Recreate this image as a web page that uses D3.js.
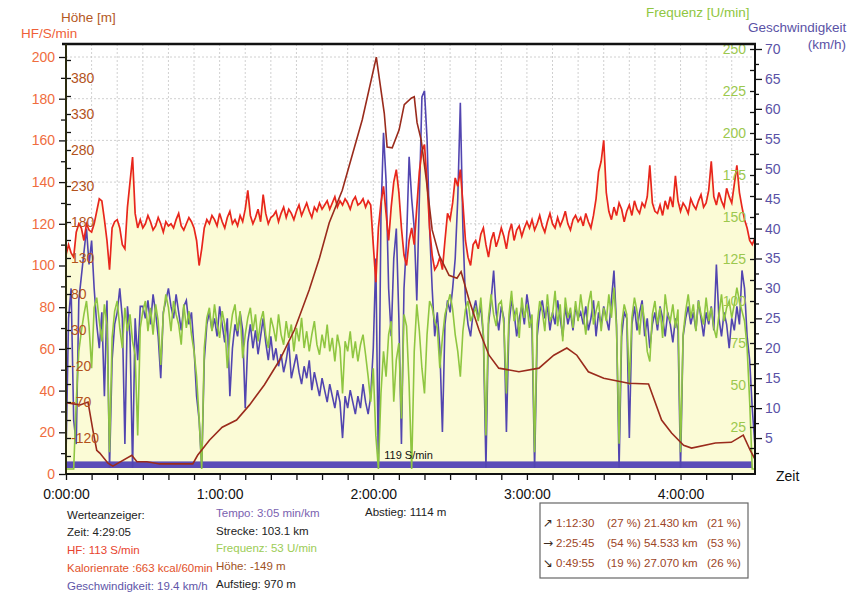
<!DOCTYPE html>
<html>
<head>
<meta charset="utf-8">
<script src="https://cdn.jsdelivr.net/npm/d3@7"></script>
<style>
    body { margin: 0; background: #fff; }
    svg { font-family: "Liberation Sans", Arial, sans-serif; }
</style>
</head>
<body>
<script>

// Samples, one per minute from 0:00 to 4:29

var hfValues = [
    105,110,106,104,116,120,118,112,120,117, 116,120,126,132,131,122,112,98,118,121,
    122,118,110,108,128,140,152,125,118,122, 118,120,124,121,117,119,123,120,116,121,
    119,120,118,122,125,119,117,120,123,121, 118,112,100,108,118,122,120,124,122,119,
    125,121,118,123,126,120,122,119,124,121, 127,136,124,120,123,127,121,134,125,120,
    123,124,126,121,125,128,123,127,125,122, 126,129,124,127,130,126,123,128,126,130,
    127,129,131,127,130,133,128,131,129,132, 130,127,131,133,129,130,132,128,131,129,
    110,92,118,130,138,125,112,128,140,146, 135,118,105,100,112,118,110,128,145,155,
    158,140,118,105,98,100,104,98,112,125, 122,130,142,138,146,130,112,104,100,110,
    112,108,115,118,110,104,112,116,109,113, 118,114,108,116,120,112,117,119,114,118,
    121,118,122,117,120,124,119,116,121,125, 120,118,123,119,122,126,120,117,122,124,
    121,123,119,125,121,118,124,132,145,150, 160,135,126,122,128,124,130,127,121,126,
    129,124,131,127,125,130,128,133,148,130, 126,125,129,124,131,127,133,128,143,131,
    126,130,128,125,132,129,127,131,134,128, 130,136,150,133,129,135,131,128,137,133,
    130,139,148,135,128,122,118,112,110,113
];

var speedValues = [
    2,25,30,8,4,28,32,36,40,34, 38,30,24,20,26,12,28,0,18,24,
    26,30,25,4,27,22,0,25,18,27, 27,25,28,24,29,26,22,15,26,28,
    30,27,25,29,26,23,27,28,24,26, 20,12,8,0,18,24,26,23,25,22,
    27,24,21,25,12,20,24,22,26,23, 10,21,24,20,23,19,22,25,21,18,
    22,18,20,17,19,16,18,21,15,17, 19,16,14,17,15,18,13,16,14,12,
    15,13,11,14,12,10,13,11,5,12, 10,13,11,9,12,10,14,11,9,12,
    20,35,0,42,56,48,30,22,35,40, 25,4,30,38,52,45,40,28,45,62,
    63,55,40,30,22,26,20,6,24,28, 26,30,35,45,61,40,28,24,22,26,
    28,25,27,22,0,24,28,33,26,23, 27,25,6,24,28,26,22,25,27,24,
    29,26,23,0,22,26,28,25,27,23, 26,24,28,25,22,27,24,26,23,27,
    25,26,24,27,23,25,28,22,26,24, 27,25,23,28,33,24,0,22,26,25,
    5,24,27,23,26,28,22,25,20,24, 26,23,27,25,22,26,24,21,25,23,
    0,22,25,27,24,26,23,28,25,22, 26,24,27,23,34,25,22,26,24,20,
    25,23,27,24,33,30,22,18,10,4
];

var cadenceValues = [
    0,0,0,0,40,70,82,92,100,85, 60,96,102,88,76,98,86,10,78,94,
    100,84,72,96,82,92,76,68,20,84, 94,100,82,96,80,98,88,62,92,104,
    96,82,100,92,86,74,98,84,94,80, 70,55,30,0,72,90,96,82,98,86,
    78,94,86,60,80,92,98,82,94,66, 80,90,96,82,92,76,88,94,80,72,
    90,84,76,92,80,74,88,78,86,70, 84,76,90,72,82,70,80,88,74,68,
    80,72,86,70,78,64,80,72,45,76, 70,82,66,76,64,74,80,68,55,40,
    60,20,0,45,70,55,80,88,40,65, 75,30,92,85,50,0,70,98,82,60,
    45,80,100,96,88,84,60,78,92,98, 104,95,80,70,55,82,95,100,88,92,
    96,88,102,80,20,90,104,92,85,98, 100,86,45,92,106,88,96,78,102,90,
    98,84,92,10,86,100,94,82,104,88, 92,106,85,98,76,102,90,96,84,100,
    88,104,92,80,98,106,86,94,100,82, 96,88,104,90,108,84,15,86,98,92,
    50,90,102,94,80,98,88,70,64,92, 100,86,96,78,104,92,88,98,84,95,
    10,80,94,104,90,98,82,100,92,86, 102,88,96,84,78,92,104,88,96,100,
    90,98,108,100,94,88,72,40,0,0
];

// Altitude profile, minutes and metres

var altMinutes = [0,5.5,8.6,10.5,12,13.2,16.4,18.3,25.7,27.7,31.6,36.6,44.4,49.5,51.4,56,61,66.6,71.7,77.5,
    83.4,89.2,95,99,102.8,107.9,115.7,121.2,121.5,124.3,125.4,127.4,130.1,132.1,134.8,136,137.1,138.7,140.6,141.8,
    143,145.7,149.6,152.7,154.3,157.4,161.3,165.2,169,176.9,184.7,190.5,195.6,199.5,204,210,219.7,227.5,232.6,236.5,
    241.2,244.3,253.6,259.8,264.5,267.2,269];
var altMeters = [-71,-74,-70,-109,-137,-141,-155,-159,-144,-153,-153,-156,-156,-156,-144,-123,-105,-95,-74,-46,
    -12,30,86,130,179,224,322,409,401,331,284,283,308,343,352,354,318,294,242,206,
    169,134,106,102,111,72,30,-5,-23,-28,-23,-5,5,-5,-28,-37,-44,-45,-95,-113,
    -130,-134,-127,-126,-116,-137,-149];

// Axis ticks

var timeTicks = d3.range(0, 270, 10);
var hfTicks = d3.range(0, 201, 10);
var altTicks = d3.range(-145, 406, 25);
var cadenceTicks = d3.range(12.5, 251, 12.5);
var speedTicks = d3.range(2.5, 70.1, 2.5);

var duration = 269.08;
var cursorMinute = 123.5;
var cursorLabel = "119 S/min";

var series = hfValues.map(function ( v, i ) {
    return { t: i, hf: v, speed: speedValues[i], cadence: cadenceValues[i] };
});
var altitude = altMinutes.map(function ( t, i ) { return { t: t, h: altMeters[i] }; });

// Chart size

var svg = d3.select("body").append("svg")
    .attr("width", 860)
    .attr("height", 593);

var x = d3.scaleLinear().domain([0, duration]).range([66, 755]);
var yHF = d3.scaleLinear().domain([0, 200]).range([474, 57]);
var yAlt = d3.scaleLinear().domain([-120, 380]).range([438, 78]);
var yCad = d3.scaleLinear().domain([0, 250]).range([469, 49]);
var ySpeed = d3.scaleLinear().domain([0, 70]).range([468, 49]);

svg.append("defs").append("clipPath")
    .attr("id", "plot")
    .append("rect")
    .attr("x", 66).attr("y", 44)
    .attr("width", 689).attr("height", 430);

// Grid

var grid = svg.append("g")
    .attr("stroke", "#c4c4c4")
    .attr("stroke-width", 0.8)
    .attr("stroke-dasharray", "2,2");

grid.selectAll(".gx")
    .data(timeTicks.filter(function ( d ) { return d > 0; }))
    .enter().append("line")
    .attr("x1", x).attr("x2", x)
    .attr("y1", 44).attr("y2", 474);

grid.selectAll(".gy")
    .data(d3.range(20, 201, 20))
    .enter().append("line")
    .attr("x1", 66).attr("x2", 755)
    .attr("y1", yHF).attr("y2", yHF);

var plot = svg.append("g").attr("clip-path", "url(#plot)");

// HF area

plot.append("path")
    .datum(series)
    .attr("d", d3.area().x(function ( d ) { return x(d.t); }).y0(yHF(0)).y1(function ( d ) { return yHF(d.hf); }))
    .style("fill", "#fbfbd6");

// Bottom band

plot.append("rect")
    .attr("x", x(0))
    .attr("y", ySpeed(1.1))
    .attr("width", x(duration - 1.2) - x(0))
    .attr("height", ySpeed(0) - ySpeed(1.1))
    .style("fill", "#5a4cb8");

// Speed, cadence, HF, altitude

plot.append("path")
    .datum(series)
    .attr("d", d3.line().x(function ( d ) { return x(d.t); }).y(function ( d ) { return ySpeed(d.speed); }))
    .style("fill", "none")
    .style("stroke", "#5245b0")
    .style("stroke-width", 1.6);

plot.append("path")
    .datum(series)
    .attr("d", d3.line().x(function ( d ) { return x(d.t); }).y(function ( d ) { return yCad(d.cadence); }))
    .style("fill", "none")
    .style("stroke", "#8fc641")
    .style("stroke-width", 1.6);

plot.append("path")
    .datum(series)
    .attr("d", d3.line().x(function ( d ) { return x(d.t); }).y(function ( d ) { return yHF(d.hf); }))
    .style("fill", "none")
    .style("stroke", "#e8261c")
    .style("stroke-width", 1.7);

plot.append("path")
    .datum(altitude)
    .attr("d", d3.line().x(function ( d ) { return x(d.t); }).y(function ( d ) { return yAlt(d.h); }))
    .style("fill", "none")
    .style("stroke", "#9a2b1c")
    .style("stroke-width", 1.6);

svg.append("text")
    .attr("x", x(cursorMinute) + 2)
    .attr("y", yHF(7))
    .text(cursorLabel)
    .style("font-size", "11px")
    .style("fill", "#111");

// Axes

function styleAxis ( g, color ) {
    g.select(".domain").remove();
    g.selectAll("line").attr("stroke", "#111").attr("stroke-width", 1.3);
    g.selectAll("text").style("font-size", "14px").style("fill", color).attr("font-family", null);
}

var gx = svg.append("g")
    .attr("transform", "translate(0,474)")
    .call(d3.axisBottom(x).tickValues(timeTicks).tickSize(6).tickPadding(9)
        .tickFormat(function ( m ) { return m % 60 ? "" : (m / 60) + ":00:00"; }));
styleAxis(gx, "#111");

var gHF = svg.append("g")
    .attr("transform", "translate(67,0)")
    .call(d3.axisLeft(yHF).tickValues(hfTicks).tickSize(8).tickPadding(4)
        .tickFormat(function ( d ) { return d % 20 ? "" : d; }));
styleAxis(gHF, "#ef6d3e");
gHF.selectAll(".tick line").filter(function ( d ) { return d % 20; }).attr("x2", -6);

var gAlt = svg.append("g")
    .attr("transform", "translate(66,0)")
    .call(d3.axisRight(yAlt).tickValues(altTicks).tickSize(5).tickPadding(0)
        .tickFormat(function ( d ) { return (d + 120) % 50 ? "" : d; }));
styleAxis(gAlt, "#b3521c");

var gCad = svg.append("g")
    .attr("transform", "translate(755,0)")
    .call(d3.axisLeft(yCad).tickValues(cadenceTicks).tickSize(5).tickPadding(4)
        .tickFormat(function ( d ) { return d % 25 ? "" : d; }));
styleAxis(gCad, "#9cc84e");

var gSpeed = svg.append("g")
    .attr("transform", "translate(755,0)")
    .call(d3.axisRight(ySpeed).tickValues(speedTicks).tickSize(7).tickPadding(3)
        .tickFormat(function ( d ) { return d % 5 ? "" : d; }));
styleAxis(gSpeed, "#5a52a6");
gSpeed.selectAll(".tick line").filter(function ( d ) { return d % 5; }).attr("x2", 4);

// Frame

svg.append("line").attr("x1", 62).attr("x2", 756).attr("y1", 44).attr("y2", 44)
    .style("stroke", "#111").style("stroke-width", 2.5);
svg.append("line").attr("x1", 66).attr("x2", 66).attr("y1", 44).attr("y2", 475)
    .style("stroke", "#2a2a10").style("stroke-width", 2);
svg.append("line").attr("x1", 755).attr("x2", 755).attr("y1", 44).attr("y2", 475)
    .style("stroke", "#111").style("stroke-width", 2);
svg.append("line").attr("x1", 66).attr("x2", 756).attr("y1", 474).attr("y2", 474)
    .style("stroke", "#111").style("stroke-width", 2);

// Axis titles

function label ( tx, ty, txt, color, size, anchor ) {
    return svg.append("text")
        .attr("x", tx)
        .attr("y", ty)
        .text(txt)
        .attr("text-anchor", anchor || "start")
        .style("font-size", size + "px")
        .style("fill", color);
}

label(61, 22, "Höhe [m]", "#b5581e", 13.5);
label(21, 38, "HF/S/min", "#ef5f38", 13.5);
label(646, 17, "Frequenz [U/min]", "#8fc641", 13.5);
label(748, 32, "Geschwindigkeit", "#5a52a6", 13.5);
label(846, 49, "(km/h)", "#5a52a6", 13.5, "end");
label(776, 481, "Zeit", "#111", 14);

// Value readout

var readout = [
    [67, 519, "Werteanzeiger:", "#222"],
    [67, 536, "Zeit: 4:29:05", "#222"],
    [67, 554, "HF: 113 S/min", "#e8432e"],
    [67, 572, "Kalorienrate :663 kcal/60min", "#e2512a"],
    [67, 590, "Geschwindigkeit: 19.4 km/h", "#5e55a8"],
    [216, 517, "Tempo: 3:05 min/km", "#7a62b0"],
    [216, 535, "Strecke: 103.1 km", "#222"],
    [216, 552, "Frequenz: 53 U/min", "#9ccc55"],
    [216, 570, "Höhe: -149 m", "#a0521e"],
    [216, 588, "Aufstieg: 970 m", "#222"],
    [365, 516, "Abstieg: 1114 m", "#222"]
];
readout.forEach(function ( r ) { label(r[0], r[1], r[2], r[3], 11.5); });

// Up / flat / down summary box

svg.append("rect")
    .attr("x", 540).attr("y", 503)
    .attr("width", 208).attr("height", 75)
    .style("fill", "none")
    .style("stroke", "#666")
    .style("stroke-width", 1.2);

var summary = [
    ["\u2197", "1:12:30", "(27 %)", "21.430 km", "(21 %)"],
    ["\u2192", "2:25:45", "(54 %)", "54.533 km", "(53 %)"],
    ["\u2198", "0:49:55", "(19 %)", "27.070 km", "(26 %)"]
];
var cols = [543, 556, 607, 644, 707];
summary.forEach(function ( row, i ) {
    row.forEach(function ( cell, j ) {
        label(cols[j], 527 + i * 20, cell, j === 0 ? "#3a2a20" : "#9c4526", j === 0 ? 12 : 11.5)
            .attr("font-family", j === 0 ? "DejaVu Sans" : null)
            .attr("textLength", j === 0 ? 10 : null);
    });
});

</script>
</body>
</html>
